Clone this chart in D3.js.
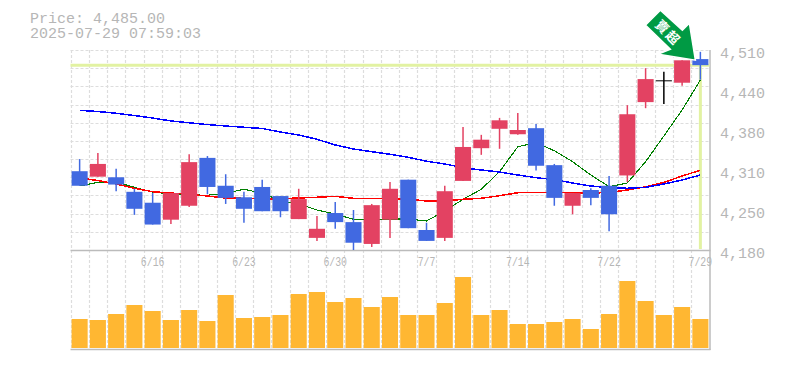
<!DOCTYPE html>
<html>
<head>
<meta charset="utf-8">
<script src="https://cdn.jsdelivr.net/npm/d3@7"></script>
<style>
  html, body { margin: 0; padding: 0; background: #fff; }
  text { font-family: "Liberation Mono", monospace; fill: #b6b6b6; }
</style>
</head>
<body>
<div id="chart"></div>
<script>
const dates = ['6/10', '6/11', '6/12', '6/13', '6/16', '6/17', '6/18', '6/19', '6/20', '6/23',
  '6/24', '6/25', '6/26', '6/27', '6/30', '7/1', '7/2', '7/3', '7/4', '7/7',
  '7/8', '7/9', '7/10', '7/11', '7/14', '7/15', '7/16', '7/17', '7/18', '7/22',
  '7/23', '7/24', '7/25', '7/28', '7/29'];

const opens = [4310, 4301, 4300, 4276, 4258, 4230, 4253, 4332, 4286, 4267,
  4284, 4269, 4231, 4200, 4241, 4226, 4190, 4230, 4296, 4213,
  4200, 4294, 4348, 4380, 4371, 4381, 4320, 4253, 4279, 4286,
  4303, 4424, 4460, 4456, 4495];
const highs = [4330, 4340, 4314, 4281, 4274, 4274, 4338, 4335, 4305, 4276,
  4296, 4269, 4281, 4236, 4259, 4246, 4256, 4292, 4296, 4225,
  4286, 4383, 4370, 4398, 4406, 4388, 4322, 4274, 4282, 4302,
  4419, 4480, 4474, 4493, 4507];
const lows = [4286, 4301, 4277, 4238, 4222, 4223, 4251, 4272, 4256, 4225,
  4244, 4234, 4231, 4195, 4215, 4180, 4185, 4200, 4216, 4195,
  4195, 4294, 4337, 4347, 4370, 4311, 4253, 4239, 4254, 4211,
  4292, 4414, 4421, 4451, 4461];
const closes = [4286, 4322, 4288, 4248, 4222, 4274, 4325, 4284, 4266, 4248,
  4244, 4244, 4264, 4215, 4226, 4192, 4254, 4281, 4216, 4195,
  4277, 4350, 4362, 4394, 4378, 4319, 4266, 4274, 4266, 4239,
  4404, 4462, 4460, 4493, 4485];
const volumes = [29, 28, 34, 43, 37, 28, 38, 27, 53, 30,
  31, 33, 54, 56, 46, 50, 41, 51, 33, 33,
  45, 71, 33, 38, 24, 24, 26, 29, 19, 34,
  67, 47, 33, 41, 29];

const maShort = [4285.6, 4291.7, 4292.2, 4283.5, 4275.7, 4272.4, 4271.2, 4270.3, 4273.6, 4280.2,
  4273.6, 4261.3, 4255.9, 4246, 4239.4, 4230.7, 4230.7, 4231.2, 4231.2, 4227.9,
  4244.4, 4263.7, 4280.2, 4309.2, 4350.4, 4357, 4343.8, 4325.7, 4303.8, 4284.5,
  4290.6, 4325.7, 4368.1, 4411, 4460.5];
const maMid = [4298.8, 4294.7, 4288.9, 4281.8, 4276.2, 4274, 4271.9, 4269.1, 4265.8, 4265.3,
  4264.2, 4264.6, 4265.8, 4267, 4268.6, 4265.3, 4265.3, 4265.3, 4263.7, 4260.9,
  4260.9, 4263.7, 4265.3, 4269.6, 4274.5, 4275.2, 4275.2, 4274.5, 4274, 4274.9,
  4279, 4284.4, 4291.4, 4302.1, 4311.6];
const maLong = [4410.5, 4408.5, 4405.6, 4401.9, 4397.8, 4392.9, 4389.9, 4387, 4384.6, 4382.5,
  4380.5, 4374.7, 4369.8, 4362.7, 4353.3, 4346.7, 4342.2, 4337.9, 4333, 4326.4,
  4322, 4315.8, 4312, 4308.7, 4303.8, 4299.3, 4296, 4290.6, 4285.6, 4282.8,
  4281.8, 4283.5, 4288.9, 4295.5, 4303.8];

const priceTicks = [4510, 4444, 4378, 4312, 4246, 4180];
const priceTickLabels = ['4,510', '4,440', '4,380', '4,310', '4,250', '4,180'];
const gridPrices = d3.range(4180, 4511, 30);
const dateLabels = ['6/16', '6/23', '6/30', '7/7', '7/14', '7/22', '7/29'];
const currentPrice = 4485;
const titleLines = ['Price: 4,485.00', '2025-07-29 07:59:03'];
const badgeChars = ['賣', '超'];

const width = 785;
const height = 370;
const left = 70.5;
const right = 709.5;
const priceTop = 50;
const priceBottom = 250;
const volumeBottom = 349;

const svg = d3.select('#chart').append('svg')
  .attr('width', width)
  .attr('height', height)
  .style('display', 'block');

const x = d3.scaleBand().domain(dates).range([left, right]).paddingInner(0.12).paddingOuter(0.06);
const mid = d => x(d) + x.bandwidth() / 2;
const y = d3.scaleLinear().domain([4180, 4510]).range([priceBottom, priceTop]);
const yVol = d3.scaleLinear().domain([0, 98]).range([volumeBottom - 1, priceBottom]);

// grid
const gridV = d3.range(0, dates.length).map(i => Math.round(left + (right - left) * i / dates.length) + 0.5);
svg.append('g').selectAll('line')
  .data(gridV)
  .enter()
  .append('line')
  .attr('x1', d => d)
  .attr('x2', d => d)
  .attr('y1', priceTop)
  .attr('y2', volumeBottom)
  .attr('stroke', '#ddd')
  .attr('stroke-width', 1.2)
  .attr('stroke-dasharray', '3,2');

svg.append('g').selectAll('line')
  .data(gridPrices.slice(1))
  .enter()
  .append('line')
  .attr('x1', left)
  .attr('x2', right)
  .attr('y1', d => Math.round(y(d)) + 0.5)
  .attr('y2', d => Math.round(y(d)) + 0.5)
  .attr('stroke', '#ddd')
  .attr('stroke-width', 1.2)
  .attr('stroke-dasharray', '3,2');

// frame
const frame = svg.append('g').attr('stroke', '#bbb').attr('stroke-width', 1.5);
frame.append('line').attr('x1', left).attr('x2', right + 1).attr('y1', priceBottom + 0.5).attr('y2', priceBottom + 0.5);
frame.append('line').attr('x1', left).attr('x2', right + 1).attr('y1', volumeBottom + 0.5).attr('y2', volumeBottom + 0.5);
frame.append('line').attr('x1', right + 0.5).attr('x2', right + 0.5).attr('y1', priceTop).attr('y2', volumeBottom + 1);

// current price markers
const lastX = mid(dates[dates.length - 1]);
svg.append('line')
  .attr('x1', left).attr('x2', right)
  .attr('y1', y(currentPrice)).attr('y2', y(currentPrice))
  .attr('stroke', '#e2f2a2').attr('stroke-width', 3);
svg.append('line')
  .attr('x1', lastX).attr('x2', lastX)
  .attr('y1', y(currentPrice)).attr('y2', priceBottom - 1)
  .attr('stroke', '#e2f2a2').attr('stroke-width', 3);

// volume
svg.append('g').selectAll('rect')
  .data(dates)
  .enter()
  .append('rect')
  .attr('x', d => x(d))
  .attr('y', (d, i) => yVol(volumes[i]))
  .attr('width', x.bandwidth())
  .attr('height', (d, i) => yVol(0) - yVol(volumes[i]))
  .attr('fill', '#ffb732');

// moving averages, no antialiasing like the original
const line = d3.line().x((d, i) => mid(dates[i])).y(d => y(d));
[[maShort, '#007f00', 1.1], [maMid, '#ff0000', 1.5], [maLong, '#0000ff', 1.5]].forEach(s => {
  svg.append('path')
    .attr('d', line(s[0]))
    .attr('fill', 'none')
    .attr('stroke', s[1])
    .attr('stroke-width', s[2])
    .attr('shape-rendering', 'crispEdges');
});

// candles
const color = i => closes[i] > opens[i] ? '#e34262' : closes[i] < opens[i] ? '#4169e1' : '#000';
const candles = svg.append('g').selectAll('g')
  .data(dates)
  .enter()
  .append('g');
candles.append('line')
  .attr('x1', d => mid(d))
  .attr('x2', d => mid(d))
  .attr('y1', (d, i) => y(highs[i]))
  .attr('y2', (d, i) => y(lows[i]))
  .attr('stroke', (d, i) => color(i))
  .attr('stroke-width', 1.5);
candles.append('rect')
  .attr('x', d => x(d))
  .attr('y', (d, i) => y(Math.max(opens[i], closes[i])))
  .attr('width', x.bandwidth())
  .attr('height', (d, i) => Math.max(1, Math.abs(y(opens[i]) - y(closes[i]))))
  .attr('fill', (d, i) => color(i));

// arrow badge, anchored on the last price
const badge = svg.append('g')
  .attr('transform', `translate(${lastX - 5},${y(currentPrice) - 5})`);
badge.append('path')
  .attr('d', 'M-35,-50 L-50,-35 L-25,-11 L-37,-6 L0,0 L-6,-37 L-13,-30 Z')
  .attr('fill', '#009a44')
  .attr('stroke', '#fff')
  .attr('stroke-width', 1.5);
badge.append('g')
  .attr('transform', 'translate(-28,-28) rotate(45)')
  .selectAll('text')
  .data(badgeChars)
  .enter()
  .append('text')
  .attr('x', (d, i) => (i - 0.5) * 15)
  .attr('text-anchor', 'middle')
  .attr('dy', '0.36em')
  .style('font-family', '"Noto Sans CJK TC"')
  .style('font-size', '13px')
  .style('font-weight', 'bold')
  .style('fill', '#fff')
  .text(d => d);

// texts
svg.append('text')
  .attr('x', 30)
  .attr('y', 23)
  .style('font-size', '15px')
  .selectAll('tspan')
  .data(titleLines)
  .enter()
  .append('tspan')
  .attr('x', 30)
  .attr('dy', (d, i) => i ? 15 : 0)
  .text(d => d);

svg.append('g').selectAll('text')
  .data(priceTicks)
  .enter()
  .append('text')
  .attr('x', 720)
  .attr('y', d => y(d) + 8)
  .style('font-size', '15px')
  .text((d, i) => priceTickLabels[i]);

svg.append('g').selectAll('text')
  .data(dateLabels)
  .enter()
  .append('text')
  .attr('transform', d => `translate(${mid(d)},266) scale(0.82,1)`)
  .attr('text-anchor', 'middle')
  .style('font-size', '12px')
  .text(d => d);
</script>
</body>
</html>
